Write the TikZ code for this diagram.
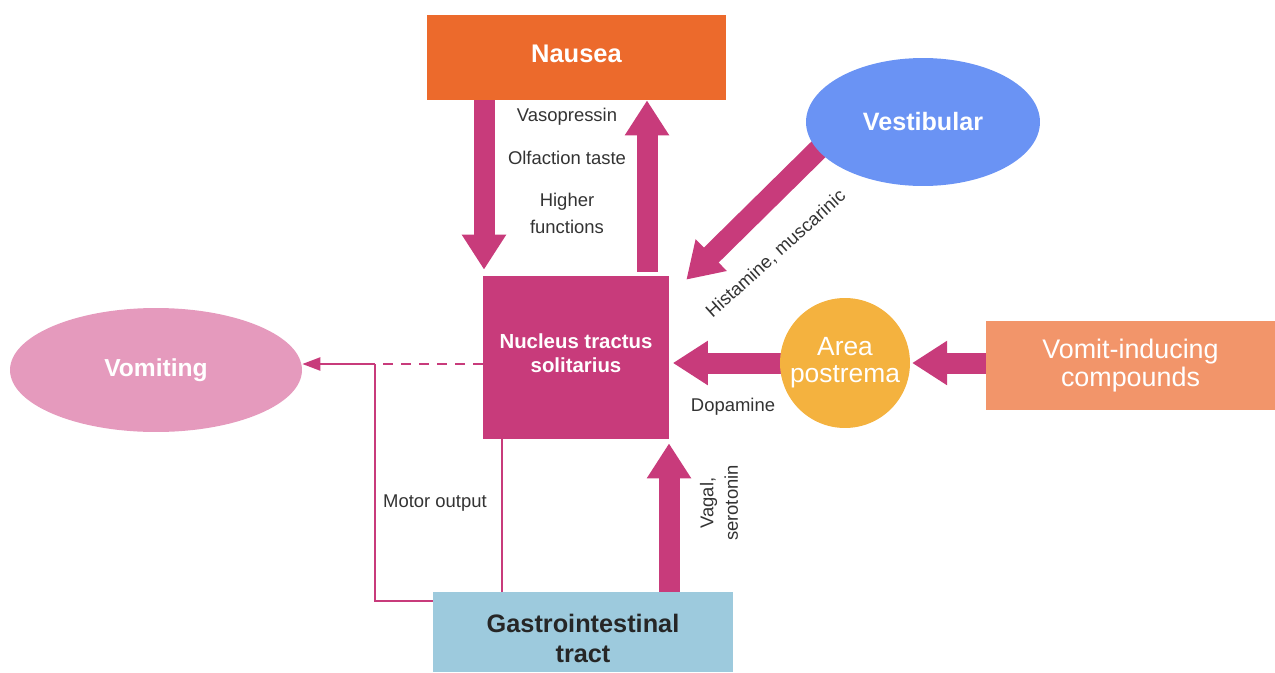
\documentclass[tikz,border=0pt]{standalone}
\usepackage{fontspec}
\setmainfont{Liberation Sans}
\usetikzlibrary{arrows.meta,shapes.geometric,calc,backgrounds}
\definecolor{cnausea}{HTML}{EC6A2C}
\definecolor{cvest}{HTML}{6A93F4}
\definecolor{cnts}{HTML}{C83B7B}
\definecolor{cvomit}{HTML}{E59ABD}
\definecolor{cap}{HTML}{F4B23F}
\definecolor{ccomp}{HTML}{F2956A}
\definecolor{cgi}{HTML}{9DCADD}
\definecolor{ctext}{HTML}{333333}
\tikzset{
  titlebox/.style={draw=none, inner sep=0pt, align=center, text=white},
  bigarrow/.style={draw=cnts, line width=0.42cm, -{Triangle[width=0.84cm,length=0.7cm]}},
  thinline/.style={draw=cnts, line width=0.045cm},
  lbl/.style={text=ctext, align=center, font=\fontsize{10.5}{15.3}\selectfont, inner sep=0pt}
}
\begin{document}
\begin{tikzpicture}[x=0.02cm,y=-0.02cm]
\useasboundingbox (0,0) rectangle (1275,673);
% nodes
\node[titlebox, rectangle, fill=cnausea, minimum width=5.98cm, minimum height=1.7cm, text depth=4.6pt,
  font=\bfseries\fontsize{14.5}{17}\selectfont] (nausea) at (576.5,57.5) {Nausea};
\node[titlebox, ellipse, fill=cvest, minimum width=4.68cm, minimum height=2.56cm,
  font=\bfseries\fontsize{14.3}{17}\selectfont] (vest) at (923,122) {Vestibular};
\node[titlebox, rectangle, fill=cnts, minimum width=3.72cm, minimum height=3.26cm, text depth=5.5pt,
  font=\bfseries\fontsize{11.6}{13.6}\selectfont] (nts) at (576,357.5) {Nucleus tractus\\solitarius};
\node[titlebox, ellipse, fill=cvomit, minimum width=5.84cm, minimum height=2.48cm,
  font=\bfseries\fontsize{14}{17}\selectfont] (vomiting) at (156,370) {Vomiting};
\node[titlebox, circle, fill=cap, minimum size=2.6cm,
  font=\fontsize{15}{15.5}\selectfont] (ap) at (845,363) {Area\\postrema};
\node[titlebox, rectangle, fill=ccomp, minimum width=5.78cm, minimum height=1.78cm,
  font=\fontsize{15.3}{15.5}\selectfont] (comp) at (1130.5,365.5) {Vomit-inducing\\compounds};
\node[titlebox, rectangle, fill=cgi, minimum width=6cm, minimum height=1.6cm, text=black!85,
  font=\bfseries\fontsize{14.4}{17}\selectfont] (gi) at (583,632) {\rule{0pt}{17.5pt}Gastrointestinal\\tract};
% helper coordinates
\coordinate (cdown) at (484,0);
\coordinate (cup) at (647,0);
\coordinate (cvag) at (669,0);
\coordinate (cv) at (375,364);
\coordinate (cm) at (375,601);
\coordinate (cgiline) at (502,0);
% thick arrows
\begin{pgfonlayer}{background}
\draw[bigarrow, shorten <=-4] (nausea.south -| cdown) -- ([yshift=0.12cm]nts.north -| cdown);
\draw[bigarrow, shorten <=-4] ([yshift=0.22cm]nts.north -| cup) -- (nausea.south -| cup);
\draw[bigarrow, shorten <=-8] (vest.195) -- ($(nts.north east)+(17,4)$);
\draw[bigarrow, shorten <=-4, shorten >=2] (ap.west) -- (nts.east |- ap.west);
\draw[bigarrow, shorten <=-4, shorten >=1] (comp.west |- ap.east) -- (ap.east);
\draw[bigarrow, shorten <=-4] (gi.north -| cvag) -- ([yshift=-0.08cm]nts.south -| cvag);
\end{pgfonlayer}
% thin connectors
\draw[thinline, dash pattern=on 0.2cm off 0.16cm] (nts.west |- cv) -- (cv);
\draw[thinline, -{Triangle[width=0.26cm,length=0.36cm]}] (cv) -- (vomiting.east |- cv);
\draw[thinline] (cv) -- (cm) -- (gi.west |- cm);
\draw[thinline] (nts.south -| cgiline) -- (gi.north -| cgiline);
% labels
\node[lbl] (lvaso) at (567,117) {Vasopressin};
\node[lbl] (lolf) at (567,158) {Olfaction taste};
\node[lbl] (lhigh) at (567,213) {Higher\\functions};
\node[lbl, rotate=42] (lhist) at (776,254) {Histamine, muscarinic};
\node[lbl] (ldopa) at (733,407) {Dopamine};
\node[lbl] (lmotor) at (435,503) {Motor output};
\node[lbl, rotate=90, font=\fontsize{10.5}{14}\selectfont] (lvagal) at (719,503) {Vagal,\\serotonin};
\end{tikzpicture}
\end{document}
